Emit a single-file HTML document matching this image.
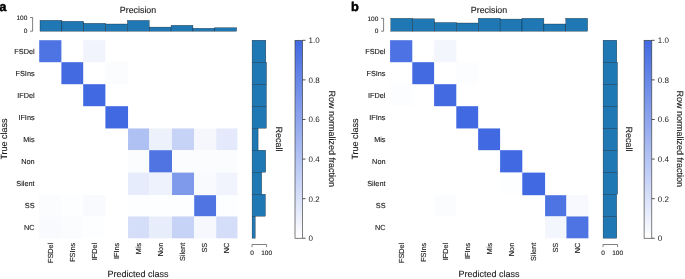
<!DOCTYPE html>
<html lang="en"><head><meta charset="utf-8"><title>Confusion matrices</title>
<style>html,body{margin:0;padding:0;background:#fff;}body{width:685px;height:279px;overflow:hidden;}svg{display:block;}</style>
</head><body>
<svg width="685" height="279" viewBox="0 0 685 279" font-family='"Liberation Sans", sans-serif' fill="#1a1a1a">
<style>text{text-rendering:geometricPrecision;stroke:#1a1a1a;stroke-width:.12px;stroke-linejoin:round}.cl{stroke-width:0}.pl{fill:#000;stroke:#000;stroke-width:.5px}</style>
<defs><linearGradient id="cb" x1="0" y1="1" x2="0" y2="0"><stop offset="0" stop-color="#ffffff"/><stop offset="1" stop-color="#4169e1"/></linearGradient></defs>
<rect width="685" height="279" fill="#fff"/>
<g>
<rect x="39.20" y="40.20" width="22.20" height="22.00" fill="#4e74e3"/>
<rect x="83.20" y="40.20" width="22.20" height="22.00" fill="#f2f4fd"/>
<rect x="61.40" y="62.20" width="21.80" height="22.00" fill="#436ae1"/>
<rect x="105.40" y="62.20" width="22.65" height="22.00" fill="#fbfcfe"/>
<rect x="83.20" y="84.20" width="22.20" height="22.00" fill="#4169e1"/>
<rect x="105.40" y="106.20" width="22.65" height="22.25" fill="#4169e1"/>
<rect x="128.05" y="128.45" width="21.15" height="21.75" fill="#afc0f2"/>
<rect x="149.20" y="128.45" width="22.85" height="21.75" fill="#edf1fc"/>
<rect x="172.05" y="128.45" width="22.15" height="21.75" fill="#c6d2f6"/>
<rect x="194.20" y="128.45" width="22.00" height="21.75" fill="#f5f7fd"/>
<rect x="216.20" y="128.45" width="21.25" height="21.75" fill="#e4eafb"/>
<rect x="128.05" y="150.20" width="21.15" height="22.40" fill="#fbfcfe"/>
<rect x="149.20" y="150.20" width="22.85" height="22.40" fill="#5075e3"/>
<rect x="172.05" y="150.20" width="22.15" height="22.40" fill="#fbfcfe"/>
<rect x="194.20" y="150.20" width="22.00" height="22.40" fill="#fbfcfe"/>
<rect x="216.20" y="150.20" width="21.25" height="22.40" fill="#fbfcfe"/>
<rect x="128.05" y="172.60" width="21.15" height="22.60" fill="#e6ecfb"/>
<rect x="149.20" y="172.60" width="22.85" height="22.60" fill="#eef2fc"/>
<rect x="172.05" y="172.60" width="22.15" height="22.60" fill="#809aeb"/>
<rect x="194.20" y="172.60" width="22.00" height="22.60" fill="#f9fafe"/>
<rect x="216.20" y="172.60" width="21.25" height="22.60" fill="#f2f4fd"/>
<rect x="39.20" y="195.20" width="22.20" height="21.25" fill="#fbfcfe"/>
<rect x="61.40" y="195.20" width="21.80" height="21.25" fill="#fdfeff"/>
<rect x="83.20" y="195.20" width="22.20" height="21.25" fill="#f9fafe"/>
<rect x="128.05" y="195.20" width="21.15" height="21.25" fill="#fdfeff"/>
<rect x="149.20" y="195.20" width="22.85" height="21.25" fill="#fdfeff"/>
<rect x="172.05" y="195.20" width="22.15" height="21.25" fill="#fdfeff"/>
<rect x="194.20" y="195.20" width="22.00" height="21.25" fill="#5075e3"/>
<rect x="216.20" y="195.20" width="21.25" height="21.25" fill="#fdfeff"/>
<rect x="39.20" y="216.45" width="22.20" height="21.85" fill="#f9fafe"/>
<rect x="61.40" y="216.45" width="21.80" height="21.85" fill="#fbfcfe"/>
<rect x="83.20" y="216.45" width="22.20" height="21.85" fill="#fdfeff"/>
<rect x="128.05" y="216.45" width="21.15" height="21.85" fill="#d5def8"/>
<rect x="149.20" y="216.45" width="22.85" height="21.85" fill="#e8edfb"/>
<rect x="172.05" y="216.45" width="22.15" height="21.85" fill="#c6d2f6"/>
<rect x="194.20" y="216.45" width="22.00" height="21.85" fill="#f6f8fe"/>
<rect x="216.20" y="216.45" width="21.25" height="21.85" fill="#d5def8"/>
<rect x="40.00" y="20.30" width="21.85" height="10.90" fill="#1f77b4" stroke="#000" stroke-opacity="0.7" stroke-width="0.4"/>
<rect x="61.85" y="21.30" width="21.85" height="9.90" fill="#1f77b4" stroke="#000" stroke-opacity="0.7" stroke-width="0.4"/>
<rect x="83.70" y="23.30" width="21.85" height="7.90" fill="#1f77b4" stroke="#000" stroke-opacity="0.7" stroke-width="0.4"/>
<rect x="105.55" y="24.00" width="21.85" height="7.20" fill="#1f77b4" stroke="#000" stroke-opacity="0.7" stroke-width="0.4"/>
<rect x="127.40" y="20.40" width="21.85" height="10.80" fill="#1f77b4" stroke="#000" stroke-opacity="0.7" stroke-width="0.4"/>
<rect x="149.25" y="27.10" width="21.85" height="4.10" fill="#1f77b4" stroke="#000" stroke-opacity="0.7" stroke-width="0.4"/>
<rect x="171.10" y="25.30" width="21.85" height="5.90" fill="#1f77b4" stroke="#000" stroke-opacity="0.7" stroke-width="0.4"/>
<rect x="192.95" y="28.30" width="21.85" height="2.90" fill="#1f77b4" stroke="#000" stroke-opacity="0.7" stroke-width="0.4"/>
<rect x="214.80" y="27.70" width="21.85" height="3.50" fill="#1f77b4" stroke="#000" stroke-opacity="0.7" stroke-width="0.4"/>
<rect x="252.10" y="40.20" width="13.70" height="22.00" fill="#1f77b4" stroke="#000" stroke-opacity="0.7" stroke-width="0.4"/>
<rect x="252.10" y="62.20" width="14.40" height="22.00" fill="#1f77b4" stroke="#000" stroke-opacity="0.7" stroke-width="0.4"/>
<rect x="252.10" y="84.20" width="14.30" height="22.00" fill="#1f77b4" stroke="#000" stroke-opacity="0.7" stroke-width="0.4"/>
<rect x="252.10" y="106.20" width="14.30" height="22.00" fill="#1f77b4" stroke="#000" stroke-opacity="0.7" stroke-width="0.4"/>
<rect x="252.10" y="128.20" width="6.00" height="22.00" fill="#1f77b4" stroke="#000" stroke-opacity="0.7" stroke-width="0.4"/>
<rect x="252.10" y="150.20" width="13.60" height="22.00" fill="#1f77b4" stroke="#000" stroke-opacity="0.7" stroke-width="0.4"/>
<rect x="252.10" y="172.20" width="9.60" height="22.00" fill="#1f77b4" stroke="#000" stroke-opacity="0.7" stroke-width="0.4"/>
<rect x="252.10" y="194.20" width="13.30" height="22.00" fill="#1f77b4" stroke="#000" stroke-opacity="0.7" stroke-width="0.4"/>
<rect x="252.10" y="216.20" width="3.10" height="22.00" fill="#1f77b4" stroke="#000" stroke-opacity="0.7" stroke-width="0.4"/>
<path d="M30.10 17.50H32.60V31.20H30.10" fill="none" stroke="#3a3a3a" stroke-width="0.65"/>
<text x="27.30" y="19.70" font-size="6.5" text-anchor="end">100</text>
<text x="27.30" y="33.40" font-size="6.5" text-anchor="end">0</text>
<path d="M252.00 247.10V244.50H266.60V247.10" fill="none" stroke="#3a3a3a" stroke-width="0.65"/>
<text x="252.00" y="254.70" font-size="6.5" text-anchor="middle">0</text>
<text x="266.60" y="254.70" font-size="6.5" text-anchor="middle">100</text>
<rect x="295.00" y="40.30" width="7.60" height="197.95" fill="url(#cb)" stroke="#3a3a3a" stroke-width="0.65"/>
<path d="M302.60 238.25h2.9" stroke="#333" stroke-width="0.85"/>
<text x="308.60" y="241.25" font-size="8" class="cl">0</text>
<path d="M302.60 198.66h2.9" stroke="#333" stroke-width="0.85"/>
<text x="308.60" y="201.66" font-size="8" class="cl">0.2</text>
<path d="M302.60 159.07h2.9" stroke="#333" stroke-width="0.85"/>
<text x="308.60" y="162.07" font-size="8" class="cl">0.4</text>
<path d="M302.60 119.48h2.9" stroke="#333" stroke-width="0.85"/>
<text x="308.60" y="122.48" font-size="8" class="cl">0.6</text>
<path d="M302.60 79.89h2.9" stroke="#333" stroke-width="0.85"/>
<text x="308.60" y="82.89" font-size="8" class="cl">0.8</text>
<path d="M302.60 40.30h2.9" stroke="#333" stroke-width="0.85"/>
<text x="308.60" y="43.30" font-size="8" class="cl">1.0</text>
<text x="34.60" y="54.35" font-size="7.3" text-anchor="end">FSDel</text>
<text x="34.60" y="76.35" font-size="7.3" text-anchor="end">FSIns</text>
<text x="34.60" y="98.35" font-size="7.3" text-anchor="end">IFDel</text>
<text x="34.60" y="120.35" font-size="7.3" text-anchor="end">IFIns</text>
<text x="34.60" y="142.35" font-size="7.3" text-anchor="end">Mis</text>
<text x="34.60" y="164.35" font-size="7.3" text-anchor="end">Non</text>
<text x="34.60" y="186.35" font-size="7.3" text-anchor="end">Silent</text>
<text x="34.60" y="208.35" font-size="7.3" text-anchor="end">SS</text>
<text x="34.60" y="230.35" font-size="7.3" text-anchor="end">NC</text>
<text transform="translate(52.80 242.80) rotate(-90)" font-size="7.3" text-anchor="end">FSDel</text>
<text transform="translate(74.80 242.80) rotate(-90)" font-size="7.3" text-anchor="end">FSIns</text>
<text transform="translate(96.80 242.80) rotate(-90)" font-size="7.3" text-anchor="end">IFDel</text>
<text transform="translate(118.80 242.80) rotate(-90)" font-size="7.3" text-anchor="end">IFIns</text>
<text transform="translate(140.80 242.80) rotate(-90)" font-size="7.3" text-anchor="end">Mis</text>
<text transform="translate(162.80 242.80) rotate(-90)" font-size="7.3" text-anchor="end">Non</text>
<text transform="translate(184.80 242.80) rotate(-90)" font-size="7.3" text-anchor="end">Silent</text>
<text transform="translate(206.80 242.80) rotate(-90)" font-size="7.3" text-anchor="end">SS</text>
<text transform="translate(228.80 242.80) rotate(-90)" font-size="7.3" text-anchor="end">NC</text>
<text x="138.00" y="13" font-size="8.85" text-anchor="middle">Precision</text>
<text x="138.00" y="276.5" font-size="9" text-anchor="middle">Predicted class</text>
<text transform="translate(7.30 139) rotate(-90)" font-size="9" text-anchor="middle">True class</text>
<text transform="translate(276.00 139) rotate(90)" font-size="9" text-anchor="middle">Recall</text>
<text transform="translate(329.30 138.8) rotate(90)" font-size="9" text-anchor="middle">Row normalized fraction</text>
<text x="-0.70" y="10.6" font-size="12.8" font-weight="bold" class="pl">a</text>
</g>
<g>
<rect x="390.10" y="40.20" width="22.20" height="22.00" fill="#4c72e3"/>
<rect x="434.10" y="40.20" width="22.20" height="22.00" fill="#f4f6fd"/>
<rect x="412.30" y="62.20" width="21.80" height="22.00" fill="#436ae1"/>
<rect x="456.30" y="62.20" width="21.85" height="22.00" fill="#fcfdff"/>
<rect x="390.10" y="84.20" width="22.20" height="22.00" fill="#fcfdff"/>
<rect x="434.10" y="84.20" width="22.20" height="22.00" fill="#436ae1"/>
<rect x="456.30" y="106.20" width="21.85" height="22.25" fill="#4169e1"/>
<rect x="478.15" y="128.45" width="21.95" height="21.75" fill="#4169e1"/>
<rect x="500.10" y="150.20" width="22.20" height="22.40" fill="#4169e1"/>
<rect x="500.10" y="172.60" width="22.20" height="22.60" fill="#fdfeff"/>
<rect x="522.30" y="172.60" width="22.80" height="22.60" fill="#4169e1"/>
<rect x="434.10" y="195.20" width="22.20" height="21.25" fill="#fbfcfe"/>
<rect x="545.10" y="195.20" width="21.35" height="21.25" fill="#4e74e3"/>
<rect x="566.45" y="195.20" width="21.95" height="21.25" fill="#f7f9fe"/>
<rect x="545.10" y="216.45" width="21.35" height="21.85" fill="#f4f6fd"/>
<rect x="566.45" y="216.45" width="21.95" height="21.85" fill="#4e74e3"/>
<rect x="390.80" y="18.30" width="21.87" height="12.90" fill="#1f77b4" stroke="#000" stroke-opacity="0.7" stroke-width="0.4"/>
<rect x="412.67" y="18.80" width="21.87" height="12.40" fill="#1f77b4" stroke="#000" stroke-opacity="0.7" stroke-width="0.4"/>
<rect x="434.54" y="22.50" width="21.87" height="8.70" fill="#1f77b4" stroke="#000" stroke-opacity="0.7" stroke-width="0.4"/>
<rect x="456.41" y="23.00" width="21.87" height="8.20" fill="#1f77b4" stroke="#000" stroke-opacity="0.7" stroke-width="0.4"/>
<rect x="478.28" y="18.30" width="21.87" height="12.90" fill="#1f77b4" stroke="#000" stroke-opacity="0.7" stroke-width="0.4"/>
<rect x="500.15" y="19.10" width="21.87" height="12.10" fill="#1f77b4" stroke="#000" stroke-opacity="0.7" stroke-width="0.4"/>
<rect x="522.02" y="18.30" width="21.87" height="12.90" fill="#1f77b4" stroke="#000" stroke-opacity="0.7" stroke-width="0.4"/>
<rect x="543.89" y="24.00" width="21.87" height="7.20" fill="#1f77b4" stroke="#000" stroke-opacity="0.7" stroke-width="0.4"/>
<rect x="565.76" y="18.30" width="21.87" height="12.90" fill="#1f77b4" stroke="#000" stroke-opacity="0.7" stroke-width="0.4"/>
<rect x="603.10" y="40.20" width="13.70" height="22.00" fill="#1f77b4" stroke="#000" stroke-opacity="0.7" stroke-width="0.4"/>
<rect x="603.10" y="62.20" width="14.40" height="22.00" fill="#1f77b4" stroke="#000" stroke-opacity="0.7" stroke-width="0.4"/>
<rect x="603.10" y="84.20" width="14.40" height="22.00" fill="#1f77b4" stroke="#000" stroke-opacity="0.7" stroke-width="0.4"/>
<rect x="603.10" y="106.20" width="14.40" height="22.00" fill="#1f77b4" stroke="#000" stroke-opacity="0.7" stroke-width="0.4"/>
<rect x="603.10" y="128.20" width="14.40" height="22.00" fill="#1f77b4" stroke="#000" stroke-opacity="0.7" stroke-width="0.4"/>
<rect x="603.10" y="150.20" width="14.40" height="22.00" fill="#1f77b4" stroke="#000" stroke-opacity="0.7" stroke-width="0.4"/>
<rect x="603.10" y="172.20" width="14.50" height="22.00" fill="#1f77b4" stroke="#000" stroke-opacity="0.7" stroke-width="0.4"/>
<rect x="603.10" y="194.20" width="13.60" height="22.00" fill="#1f77b4" stroke="#000" stroke-opacity="0.7" stroke-width="0.4"/>
<rect x="603.10" y="216.20" width="13.70" height="22.00" fill="#1f77b4" stroke="#000" stroke-opacity="0.7" stroke-width="0.4"/>
<path d="M381.10 18.30H383.60V31.20H381.10" fill="none" stroke="#3a3a3a" stroke-width="0.65"/>
<text x="378.30" y="20.50" font-size="6.5" text-anchor="end">100</text>
<text x="378.30" y="33.40" font-size="6.5" text-anchor="end">0</text>
<path d="M603.00 247.10V244.50H617.60V247.10" fill="none" stroke="#3a3a3a" stroke-width="0.65"/>
<text x="603.00" y="254.70" font-size="6.5" text-anchor="middle">0</text>
<text x="617.60" y="254.70" font-size="6.5" text-anchor="middle">100</text>
<rect x="644.10" y="40.30" width="7.70" height="197.95" fill="url(#cb)" stroke="#3a3a3a" stroke-width="0.65"/>
<path d="M651.80 238.25h2.9" stroke="#333" stroke-width="0.85"/>
<text x="657.80" y="241.25" font-size="8" class="cl">0</text>
<path d="M651.80 198.66h2.9" stroke="#333" stroke-width="0.85"/>
<text x="657.80" y="201.66" font-size="8" class="cl">0.2</text>
<path d="M651.80 159.07h2.9" stroke="#333" stroke-width="0.85"/>
<text x="657.80" y="162.07" font-size="8" class="cl">0.4</text>
<path d="M651.80 119.48h2.9" stroke="#333" stroke-width="0.85"/>
<text x="657.80" y="122.48" font-size="8" class="cl">0.6</text>
<path d="M651.80 79.89h2.9" stroke="#333" stroke-width="0.85"/>
<text x="657.80" y="82.89" font-size="8" class="cl">0.8</text>
<path d="M651.80 40.30h2.9" stroke="#333" stroke-width="0.85"/>
<text x="657.80" y="43.30" font-size="8" class="cl">1.0</text>
<text x="385.50" y="54.35" font-size="7.3" text-anchor="end">FSDel</text>
<text x="385.50" y="76.35" font-size="7.3" text-anchor="end">FSIns</text>
<text x="385.50" y="98.35" font-size="7.3" text-anchor="end">IFDel</text>
<text x="385.50" y="120.35" font-size="7.3" text-anchor="end">IFIns</text>
<text x="385.50" y="142.35" font-size="7.3" text-anchor="end">Mis</text>
<text x="385.50" y="164.35" font-size="7.3" text-anchor="end">Non</text>
<text x="385.50" y="186.35" font-size="7.3" text-anchor="end">Silent</text>
<text x="385.50" y="208.35" font-size="7.3" text-anchor="end">SS</text>
<text x="385.50" y="230.35" font-size="7.3" text-anchor="end">NC</text>
<text transform="translate(403.70 242.80) rotate(-90)" font-size="7.3" text-anchor="end">FSDel</text>
<text transform="translate(425.70 242.80) rotate(-90)" font-size="7.3" text-anchor="end">FSIns</text>
<text transform="translate(447.70 242.80) rotate(-90)" font-size="7.3" text-anchor="end">IFDel</text>
<text transform="translate(469.70 242.80) rotate(-90)" font-size="7.3" text-anchor="end">IFIns</text>
<text transform="translate(491.70 242.80) rotate(-90)" font-size="7.3" text-anchor="end">Mis</text>
<text transform="translate(513.70 242.80) rotate(-90)" font-size="7.3" text-anchor="end">Non</text>
<text transform="translate(535.70 242.80) rotate(-90)" font-size="7.3" text-anchor="end">Silent</text>
<text transform="translate(557.70 242.80) rotate(-90)" font-size="7.3" text-anchor="end">SS</text>
<text transform="translate(579.70 242.80) rotate(-90)" font-size="7.3" text-anchor="end">NC</text>
<text x="489.00" y="13" font-size="8.85" text-anchor="middle">Precision</text>
<text x="489.00" y="276.5" font-size="9" text-anchor="middle">Predicted class</text>
<text transform="translate(358.30 139) rotate(-90)" font-size="9" text-anchor="middle">True class</text>
<text transform="translate(625.80 139) rotate(90)" font-size="9" text-anchor="middle">Recall</text>
<text transform="translate(676.70 138.8) rotate(90)" font-size="9" text-anchor="middle">Row normalized fraction</text>
<text x="351.00" y="10.6" font-size="12.8" font-weight="bold" class="pl">b</text>
</g>
</svg>
</body></html>
